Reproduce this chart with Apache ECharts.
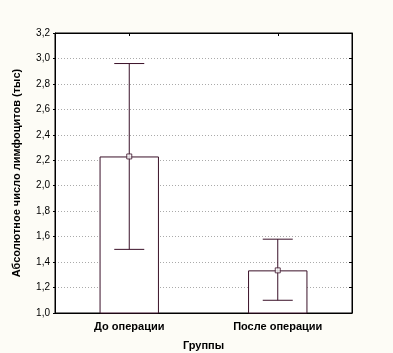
<!DOCTYPE html>
<html>
<head>
<meta charset="utf-8">
<script src="https://cdn.jsdelivr.net/npm/echarts@6/dist/echarts.min.js"></script>
<style>html,body{margin:0;padding:0;background:#fdfcf6}#c{width:393px;height:353px}</style>
</head>
<body>
<div id="c"></div>
<script>
// groups and values (mean, lower, upper)
var categories = ['До операции', 'После операции']
var means = [2.23, 1.335]
var lowers = [1.50, 1.10]
var uppers = [2.96, 1.58]
var yTicks = ['1,0','1,2','1,4','1,6','1,8','2,0','2,2','2,4','2,6','2,8','3,0','3,2']

var fmt = v => v.toFixed(1).replace('.', ',')
var lineCol = '#3a1028'
var font = 'Liberation Sans, Arial, sans-serif'

var chart = echarts.init(document.getElementById('c'))
chart.setOption({
  backgroundColor: '#fdfcf6',
  animation: false,
  grid: {left: 55, right: 41, top: 33, bottom: 40, outerBoundsMode: 'none', show: true, backgroundColor: '#fff', borderColor: '#000', borderWidth: 1},
  xAxis: [{
    type: 'category', data: categories, position: 'bottom',
    name: 'Группы', nameLocation: 'middle', nameGap: 27,
    nameTextStyle: {fontFamily: font, fontWeight: 'bold', fontSize: 11, color: '#000'},
    axisLine: {show: true, lineStyle: {color: '#000'}},
    axisTick: {show: true, alignWithLabel: true, inside: true, length: 3, lineStyle: {color: '#000'}},
    axisLabel: {fontFamily: font, fontWeight: 'bold', fontSize: 11, color: '#000', margin: 8}
  }, {
    type: 'category', data: categories, position: 'top',
    axisLine: {show: true, lineStyle: {color: '#000'}},
    axisTick: {show: true, alignWithLabel: true, inside: true, length: 3, lineStyle: {color: '#000'}},
    axisLabel: {show: false}
  }],
  yAxis: [{
    type: 'value', min: 1.0, max: 3.2, interval: 0.2,
    name: 'Абсолютное число лимфоцитов (тыс)', nameLocation: 'middle', nameGap: 33,
    nameTextStyle: {fontFamily: font, fontWeight: 'bold', fontSize: 11, color: '#000'},
    axisLine: {show: true, lineStyle: {color: '#000'}},
    axisTick: {show: true, inside: false, length: 2, lineStyle: {color: '#000'}},
    axisLabel: {fontFamily: font, fontSize: 10, color: '#000', margin: 5, formatter: (v, i) => yTicks[i] || fmt(v)},
    splitLine: {show: true, lineStyle: {color: '#aaa', type: [1, 2], width: 1}}
  }, {
    type: 'value', min: 1.0, max: 3.2, interval: 0.2, position: 'right',
    axisLine: {show: true, lineStyle: {color: '#000'}},
    axisTick: {show: true, inside: true, length: 3, lineStyle: {color: '#000'}},
    axisLabel: {show: false}, splitLine: {show: false}
  }],
  series: [{
    type: 'bar', data: means, barWidth: '40%',
    itemStyle: {color: '#fff', borderColor: lineCol, borderWidth: 1},
    z: 2
  }, {
    type: 'custom', z: 3,
    data: categories.map((c, i) => [i, lowers[i], uppers[i]]),
    renderItem: (params, api) => {
      var x = api.coord([api.value(0), api.value(1)])[0]
      var lo = api.coord([api.value(0), api.value(1)])[1]
      var hi = api.coord([api.value(0), api.value(2)])[1]
      var hw = 15
      var st = {stroke: lineCol, lineWidth: 1}
      return {type: 'group', children: [
        {type: 'line', shape: {x1: x, y1: lo, x2: x, y2: hi}, style: st},
        {type: 'line', shape: {x1: x - hw, y1: hi, x2: x + hw, y2: hi}, style: st},
        {type: 'line', shape: {x1: x - hw, y1: lo, x2: x + hw, y2: lo}, style: st}
      ]}
    }
  }, {
    type: 'scatter', data: means, symbol: 'rect', symbolSize: 5, z: 4,
    itemStyle: {color: '#fff', borderColor: lineCol, borderWidth: 1}
  }]
})
</script>
</body>
</html>
